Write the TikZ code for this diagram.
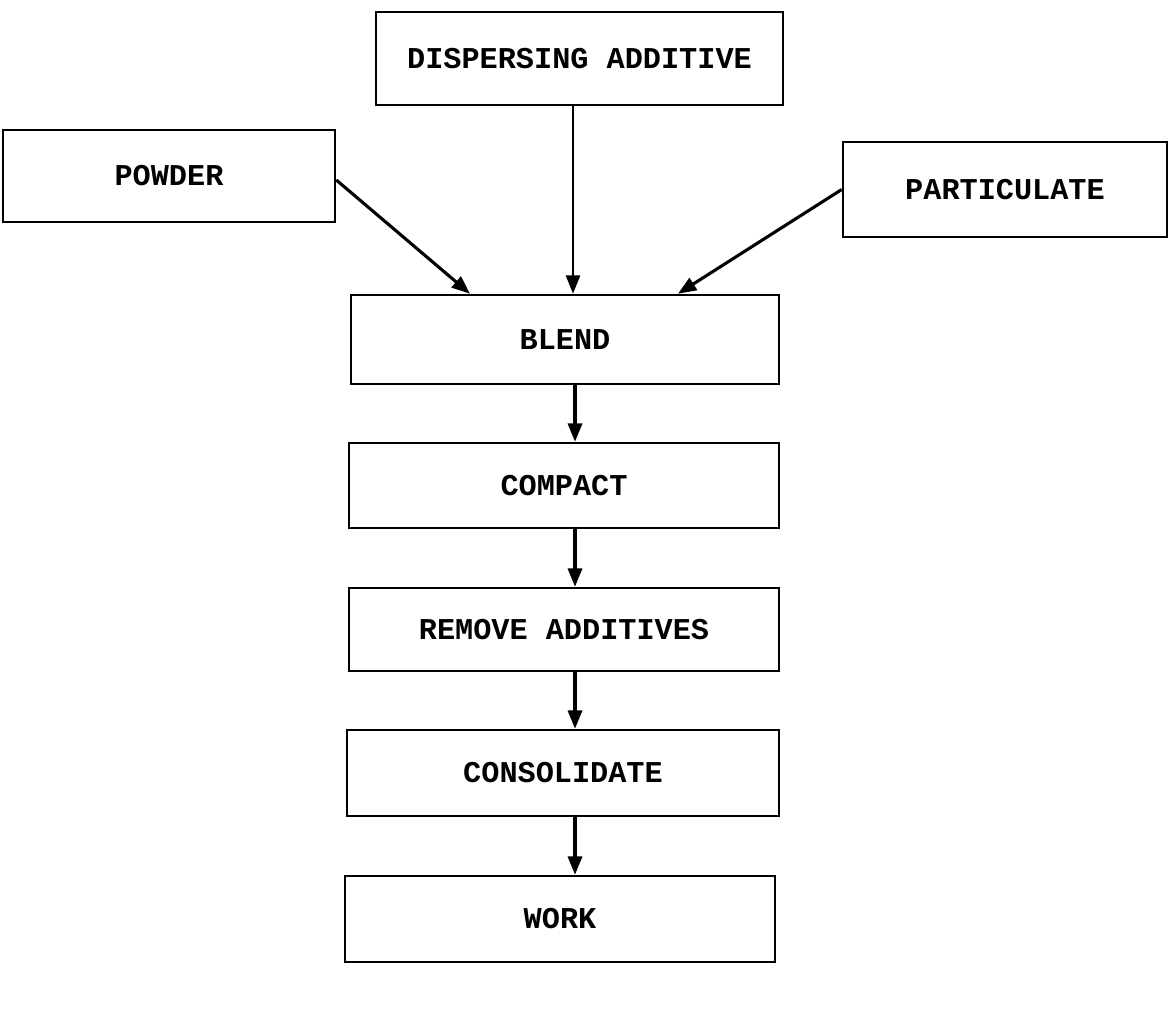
\documentclass[tikz,border=0pt]{standalone}
\usepackage{fontspec}
\setmonofont{Liberation Mono}
\usetikzlibrary{arrows.meta,calc}
\begin{document}
\begin{tikzpicture}[x=0.025cm,y=-0.025cm,
  box/.style n args={2}{draw,line width=1.8pt,rectangle,inner sep=0pt,
    minimum width=#1*0.025cm,minimum height=#2*0.025cm,
    font=\ttfamily\bfseries\fontsize{21.5}{24}\selectfont},
  flow/.style={line width=2.2pt,-{Triangle[length=13pt,width=10pt]}}]
\useasboundingbox (0,0) rectangle (1169,1016);
\node[box={407}{93}] (disp) at (579.5,58.5) {DISPERSING ADDITIVE};
\node[box={332}{92}] (powder) at (169,176) {POWDER};
\node[box={324}{95}] (partic) at (1005,189.5) {PARTICULATE};
\node[box={428}{89}] (blend) at (565,339.5) {BLEND};
\node[box={430}{85}] (compact) at (564,485.5) {COMPACT};
\node[box={430}{83}] (remove) at (564,629.5) {REMOVE ADDITIVES};
\node[box={432}{86}] (consol) at (563,773) {CONSOLIDATE};
\node[box={430}{86}] (work) at (560,919) {WORK};
\coordinate (xa) at (575,0);
\coordinate (xd) at (573,0);
\draw[flow,line width=1.6pt] (disp.south -| xd) -- (blend.north -| xd);
\draw[flow] ([yshift=-4*0.025cm]powder.east) -- ([xshift=-95*0.025cm]blend.north);
\draw[flow] (partic.west) -- ([xshift=113*0.025cm]blend.north);
\draw[flow] (blend.south -| xa) -- (compact.north -| xa);
\draw[flow] (compact.south -| xa) -- (remove.north -| xa);
\draw[flow] (remove.south -| xa) -- (consol.north -| xa);
\draw[flow] (consol.south -| xa) -- (work.north -| xa);
\end{tikzpicture}
\end{document}
